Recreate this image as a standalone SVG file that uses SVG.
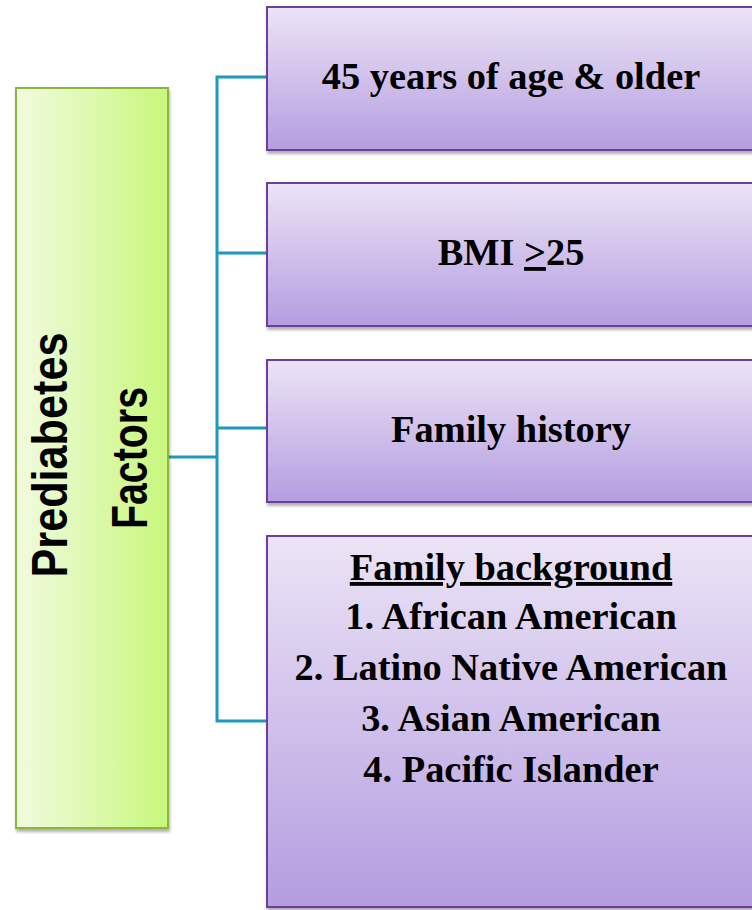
<svg xmlns="http://www.w3.org/2000/svg" width="752" height="910" viewBox="0 0 752 910">
  <defs>
    <linearGradient id="gGreen" x1="0" y1="0" x2="1" y2="0">
      <stop offset="0" stop-color="#f1fbe0"/>
      <stop offset="1" stop-color="#c8f77c"/>
    </linearGradient>
    <linearGradient id="gPurple" x1="0" y1="0" x2="0" y2="1">
      <stop offset="0" stop-color="#ece4f6"/>
      <stop offset="1" stop-color="#b49de0"/>
    </linearGradient>
    <filter id="shadow" x="-5%" y="-5%" width="110%" height="115%">
      <feDropShadow dx="1" dy="3" stdDeviation="1.5" flood-color="#000" flood-opacity="0.3"/>
    </filter>
  </defs>
  <style>
    .green { fill: url(#gGreen); stroke: #8cb73c; stroke-width: 2; }
    .purple { fill: url(#gPurple); stroke: #6b3f9c; stroke-width: 2; }
    .conn { fill: none; stroke: #1b9abb; stroke-width: 3; }
    .lbl { font-family: "Liberation Serif", "Times New Roman", serif; font-weight: bold; font-size: 38.4px; fill: #000; text-anchor: middle; }
    .side { font-family: "Liberation Sans", Arial, sans-serif; font-weight: bold; font-size: 50px; fill: #000; text-anchor: middle; }
    .u { text-decoration: underline; }
  </style>

  <g id="connectors">
    <path class="conn" d="M168,457 H217"/>
    <path class="conn" d="M267,77 H217 V721 H267"/>
    <path class="conn" d="M217,253 H267"/>
    <path class="conn" d="M217,428 H267"/>
  </g>

  <g id="node-prediabetes-factors">
    <rect class="green" x="16" y="88" width="152" height="740" filter="url(#shadow)"/>
    <text class="side" transform="translate(67,455) rotate(-90)" textLength="245" lengthAdjust="spacingAndGlyphs">Prediabetes</text>
    <text class="side" transform="translate(147,458) rotate(-90)" textLength="142" lengthAdjust="spacingAndGlyphs">Factors</text>
  </g>

  <g id="node-age">
    <rect class="purple" x="267" y="7" width="490" height="143" filter="url(#shadow)"/>
    <text class="lbl" x="511" y="89">45 years of age &amp; older</text>
  </g>

  <g id="node-bmi">
    <rect class="purple" x="267" y="183" width="490" height="143" filter="url(#shadow)"/>
    <text class="lbl" x="511" y="265">BMI <tspan class="u">&gt;</tspan>25</text>
  </g>

  <g id="node-family-history">
    <rect class="purple" x="267" y="360" width="490" height="142" filter="url(#shadow)"/>
    <text class="lbl" x="511" y="442">Family history</text>
  </g>

  <g id="node-family-background">
    <rect class="purple" x="267" y="536" width="490" height="371" filter="url(#shadow)"/>
    <text class="lbl u" x="511" y="580">Family background</text>
    <text class="lbl" x="511" y="629">1. African American</text>
    <text class="lbl" x="511" y="680">2. Latino Native American</text>
    <text class="lbl" x="511" y="731">3. Asian American</text>
    <text class="lbl" x="511" y="782">4. Pacific Islander</text>
  </g>
</svg>
